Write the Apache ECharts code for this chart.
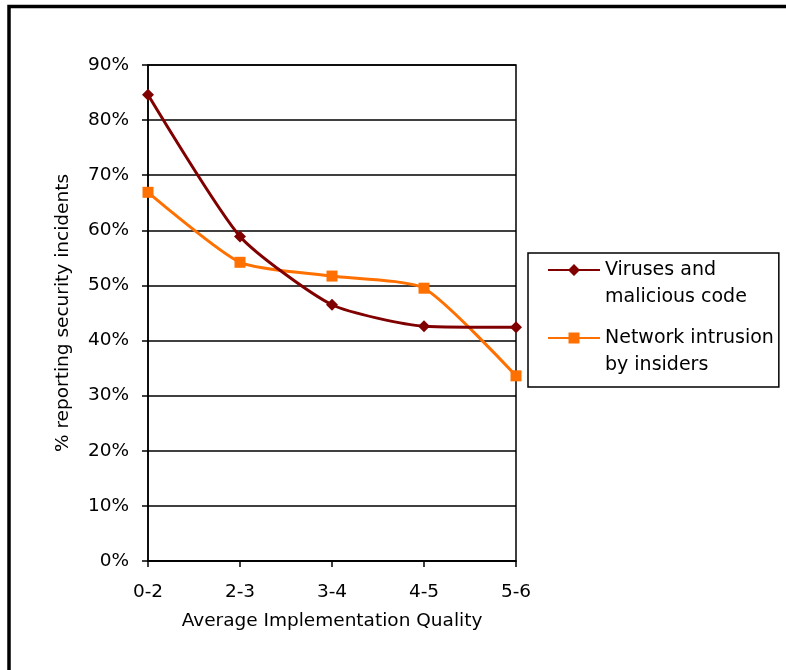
<!DOCTYPE html>
<html>
<head>
<meta charset="utf-8">
<script src="https://cdn.jsdelivr.net/npm/echarts@6/dist/echarts.min.js"></script>
<style>
  html, body { margin: 0; padding: 0; background: #fff; }
  #chart { width: 786px; height: 670px; }
</style>
</head>
<body>
<div id="chart"></div>
<script>
var categories = ['0-2', '2-3', '3-4', '4-5', '5-6'];
var virusesValues = [84.6, 58.9, 46.5, 42.6, 42.4];
var networkValues = [66.9, 54.2, 51.7, 49.5, 33.6];
var yTicks = [0, 10, 20, 30, 40, 50, 60, 70, 80, 90];

var seriesNames = ['Viruses and malicious code', 'Network intrusion by insiders'];
var legendLabels = {
  'Viruses and malicious code': 'Viruses and\nmalicious code',
  'Network intrusion by insiders': 'Network intrusion\nby insiders'
};

var FONT = 'DejaVu Sans';
var chart = echarts.init(document.getElementById('chart'), null, { renderer: 'canvas' });

// legend icons: line + marker aligned with first text line (box 52 x 54)
var filler = 'M0 0 L0.01 0 L0 0.01 Z M0 54 L0.01 54 L0 53.99 Z ';
var iconViruses = 'path://' + filler + 'M0 12.4 L52 12.4 L52 14.6 L0 14.6 Z M26 7.5 L32 13.5 L26 19.5 L20 13.5 Z';
var iconNetwork = 'path://' + filler + 'M0 12.4 L52 12.4 L52 14.6 L0 14.6 Z M20.5 8 L31.5 8 L31.5 19 L20.5 19 Z';

var option = {
  animation: false,
  backgroundColor: '#ffffff',
  textStyle: { fontFamily: FONT, color: '#000' },
  graphic: [{
    type: 'rect',
    z: -10,
    shape: { x: 9, y: 6.5, width: 1000, height: 1000 },
    style: { fill: 'none', stroke: '#000', lineWidth: 3.5 }
  }],
  grid: {
    left: 148, right: 270, top: 65, bottom: 109,
    show: true, borderColor: '#000', borderWidth: 1.5, backgroundColor: 'transparent'
  },
  legend: {
    orient: 'vertical',
    left: 528, top: 253,
    padding: [3.5, 5, 8.5, 20],
    itemGap: 14,
    itemWidth: 52,
    itemHeight: 54,
    borderColor: '#000',
    borderWidth: 1.5,
    backgroundColor: '#fff',
    data: [
      { name: seriesNames[0], icon: iconViruses },
      { name: seriesNames[1], icon: iconNetwork }
    ],
    itemStyle: { borderWidth: 0 },
    formatter: function (name) { return legendLabels[name]; },
    textStyle: { fontFamily: FONT, fontSize: 19, lineHeight: 27, color: '#000' }
  },
  xAxis: {
    type: 'category',
    data: categories,
    boundaryGap: false,
    name: 'Average Implementation Quality',
    nameLocation: 'middle',
    nameGap: 51,
    nameTextStyle: { fontFamily: FONT, fontSize: 18.5, color: '#000' },
    axisLine: { lineStyle: { color: '#000', width: 1.5 } },
    axisTick: { show: true, length: 6, lineStyle: { color: '#000', width: 1.5 } },
    axisLabel: { margin: 22, fontFamily: FONT, fontSize: 18.5, color: '#000' },
    splitLine: { show: false }
  },
  yAxis: {
    type: 'value',
    min: yTicks[0],
    max: yTicks[yTicks.length - 1],
    interval: 10,
    name: '% reporting security incidents',
    nameLocation: 'middle',
    nameRotate: 90,
    nameGap: 75,
    nameTextStyle: { fontFamily: FONT, fontSize: 18.5, color: '#000' },
    axisLine: { show: true, lineStyle: { color: '#000', width: 1.5 } },
    axisTick: { show: true, length: 6, lineStyle: { color: '#000', width: 1.5 } },
    axisLabel: { margin: 19, fontFamily: FONT, fontSize: 18.5, color: '#000', formatter: '{value}%' },
    splitLine: { show: true, lineStyle: { color: '#000', width: 1.5 } }
  },
  series: [
    {
      name: seriesNames[0],
      type: 'line',
      data: virusesValues,
      smooth: 0.2,
      symbol: 'diamond',
      symbolSize: 12,
      lineStyle: { color: '#800000', width: 3 },
      itemStyle: { color: '#800000', borderWidth: 0 },
      z: 3
    },
    {
      name: seriesNames[1],
      type: 'line',
      data: networkValues,
      smooth: 0.2,
      symbol: 'rect',
      symbolSize: 11,
      lineStyle: { color: '#FF7000', width: 3 },
      itemStyle: { color: '#FF7000', borderWidth: 0 },
      z: 2
    }
  ]
};
chart.setOption(option);
</script>
</body>
</html>
